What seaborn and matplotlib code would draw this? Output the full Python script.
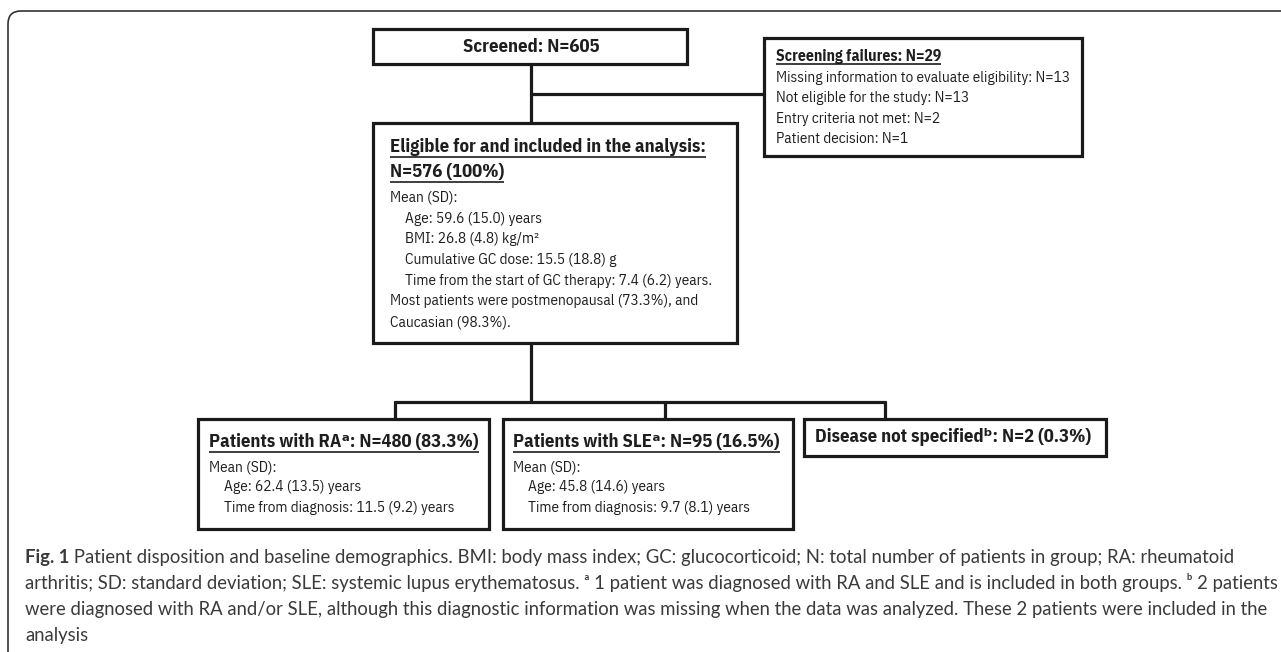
import matplotlib
matplotlib.use("Agg")
import matplotlib.pyplot as plt
from matplotlib.patches import Rectangle, FancyBboxPatch
import pandas as pd
import seaborn as sns

sns.set_theme(style="white")
NARROW = ['IBM Plex Sans Condensed', 'DejaVu Sans']
CAPFONT = ['Lato', 'DejaVu Sans']
plt.rcParams['font.family'] = NARROW

# Flowchart content
screened_title = "Screened: N=605"
failures_title = "Screening failures: N=29"
failures_lines = ["Missing information to evaluate eligibility: N=13",
                  "Not eligible for the study: N=13",
                  "Entry criteria not met: N=2",
                  "Patient decision: N=1"]
eligible_title = ["Eligible for and included in the analysis:", "N=576 (100%)"]
eligible_lines = ["Mean (SD):",
                  "Age: 59.6 (15.0) years",
                  "BMI: 26.8 (4.8) kg/m\u00b2",
                  "Cumulative GC dose: 15.5 (18.8) g",
                  "Time from the start of GC therapy: 7.4 (6.2) years.",
                  "Most patients were postmenopausal (73.3%), and",
                  "Caucasian (98.3%)."]
eligible_indent = [0, 1, 1, 1, 1, 0, 0]
ra_title = "Patients with RA\u1d43: N=480 (83.3%)"
ra_lines = ["Mean (SD):", "Age: 62.4 (13.5) years", "Time from diagnosis: 11.5 (9.2) years"]
sle_title = "Patients with SLE\u1d43: N=95 (16.5%)"
sle_lines = ["Mean (SD):", "Age: 45.8 (14.6) years", "Time from diagnosis: 9.7 (8.1) years"]
group_indent = [0, 1, 1]
nos_title = "Disease not specified\u1d47: N=2 (0.3%)"

caption_bold = "Fig. 1"
caption_lines = [
    " Patient disposition and baseline demographics. BMI: body mass index; GC: glucocorticoid; N: total number of patients in group; RA: rheumatoid",
    "arthritis; SD: standard deviation; SLE: systemic lupus erythematosus. \u1d43 1 patient was diagnosed with RA and SLE and is included in both groups. \u1d47 2 patients",
    "were diagnosed with RA and/or SLE, although this diagnostic information was missing when the data was analyzed. These 2 patients were included in the",
    "analysis",
]

# layout (pixel space, y down)
boxes = {
    'screened': (373, 29, 687, 64),
    'failures': (764, 38, 1082, 156),
    'eligible': (373, 123, 737, 343),
    'ra': (198, 419, 489, 529),
    'sle': (503, 419, 793, 529),
    'nos': (804, 419, 1106, 456),
}
connectors = pd.DataFrame({
    'seg': [0, 0, 1, 1, 2, 2, 3, 3, 4, 4, 5, 5, 6, 6],
    'x': [531, 531, 531, 764, 531, 531, 395, 885, 395, 395, 665, 665, 885, 885],
    'y': [64, 123, 94, 94, 343, 402, 402, 402, 402, 419, 402, 419, 402, 419],
})

W, H = 1281, 652
fig = plt.figure(figsize=(W / 100, H / 100), dpi=100)
ax = fig.add_axes([0, 0, 1, 1])

TXT = '#1e1e1e'
CAPCOL = '#3a3a3a'
LW = 2.3

# outer frame (rounded top-left corner, open to the right/bottom)
ax.add_patch(FancyBboxPatch((8, 11), 1400, 800, boxstyle="round,pad=0,rounding_size=13",
                            fill=False, ec='#333333', lw=1.2))

for (x0, y0, x1, y1) in boxes.values():
    ax.add_patch(Rectangle((x0, y0), x1 - x0, y1 - y0, fill=False, ec='#1a1a1a', lw=LW, zorder=3))

sns.lineplot(data=connectors, x='x', y='y', units='seg', estimator=None, sort=False,
             color='#1a1a1a', lw=LW, ax=ax, legend=False)
ax.set_xlim(0, W)
ax.set_ylim(H, 0)
ax.axis('off')

fig.canvas.draw()
renderer = fig.canvas.get_renderer()
inv = ax.transData.inverted()


def width_px(s, size, bold, family):
    t = ax.text(0, 100, s, fontsize=size, fontweight='bold' if bold else 'normal', family=family)
    w = t.get_window_extent(renderer).width
    t.remove()
    return w


# fit font sizes to the widths measured on the reference
SZ_NORMAL = 12 * 293 / width_px(failures_lines[0], 12, False, NARROW)
SZ_SMALLB = 12 * 164 / width_px(failures_title, 12, True, NARROW)
SZ_TITLE = 12 * 271 / width_px(ra_title, 12, True, NARROW)
SZ_CAP = min(12 * 1213 / (width_px(caption_bold, 12, True, CAPFONT) + width_px(caption_lines[0], 12, False, CAPFONT)),
             12 * 1250 / width_px(caption_lines[1], 12, False, CAPFONT))


def underline(t, dy=8, lw=1.2):
    bb = t.get_window_extent(renderer)
    (xa, _), (xb, _) = inv.transform([(bb.x0, bb.y0), (bb.x1, bb.y0)])
    _, yc = inv.transform((bb.x0, (bb.y0 + bb.y1) / 2))
    ax.plot([xa, xb], [yc + dy, yc + dy], color=TXT, lw=lw, solid_capstyle='butt')


def put(x, y, s, size=None, bold=False, ul=False, ha='left', dy=8):
    t = ax.text(x, y, s, fontsize=size or SZ_NORMAL, fontweight='bold' if bold else 'normal',
                ha=ha, va='center', color=TXT, family=NARROW)
    if ul:
        underline(t, dy=dy)
    return t


put(531, 47, screened_title, size=SZ_TITLE, bold=True, ha='center')

put(776, 57, failures_title, size=SZ_SMALLB, bold=True, ul=True, dy=7)
for i, s in enumerate(failures_lines):
    put(776, 78 + i * 20.4, s)

put(390, 147, eligible_title[0], size=SZ_TITLE, bold=True, ul=True, dy=10)
put(390, 172, eligible_title[1], size=SZ_TITLE, bold=True, ul=True, dy=10)
for i, s in enumerate(eligible_lines):
    put(390 + 15 * eligible_indent[i], 198 + i * 20.7, s)

for x, title, lines in [(209, ra_title, ra_lines), (513, sle_title, sle_lines)]:
    put(x, 442, title, size=SZ_TITLE, bold=True, ul=True, dy=10)
    for i, s in enumerate(lines):
        put(x + 15 * group_indent[i], 467 + i * 20.5, s)

put(815, 437, nos_title, size=SZ_TITLE, bold=True)

# caption
fb = ax.text(25, 557, caption_bold, fontsize=SZ_CAP, fontweight='bold', va='center',
             color=CAPCOL, family=CAPFONT)
bb = fb.get_window_extent(renderer)
xr = inv.transform((bb.x1, bb.y0))[0]
ax.text(xr, 557, caption_lines[0], fontsize=SZ_CAP, va='center', color=CAPCOL, family=CAPFONT)
for i, s in enumerate(caption_lines[1:]):
    ax.text(25, 583 + i * 26.3, s, fontsize=SZ_CAP, va='center', color=CAPCOL, family=CAPFONT)

fig.savefig('out.png', dpi=100)
